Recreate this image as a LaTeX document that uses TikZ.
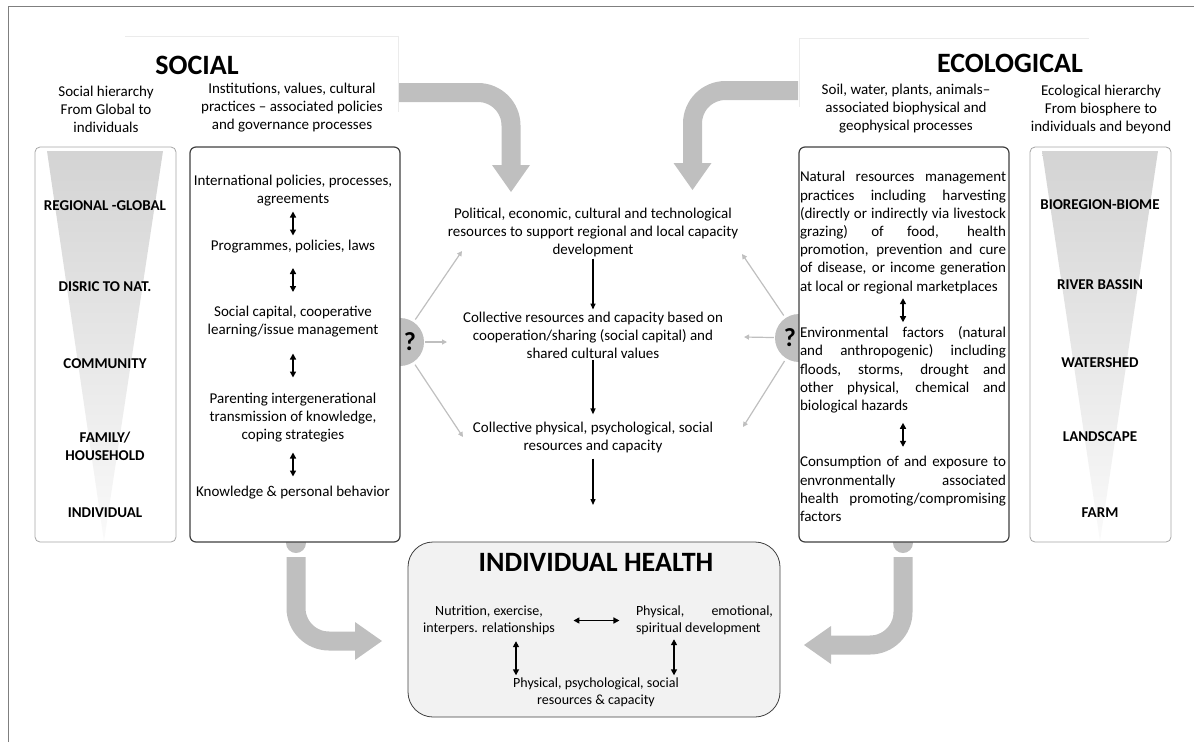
\documentclass[tikz,border=0pt]{standalone}
\usepackage{fontspec}
\setmainfont{Carlito}
\usetikzlibrary{arrows.meta,calc}
\definecolor{arrgray}{HTML}{BFBFBF}
\definecolor{boxline}{HTML}{404040}
\definecolor{hierline}{HTML}{A6A6A6}
\definecolor{healthfill}{HTML}{F2F2F2}
\definecolor{framegray}{HTML}{7F7F7F}

\begin{document}
\begin{tikzpicture}[x=1pt, y=-1pt,
  every node/.style = {inner sep=2pt, align=center, font=\fontsize{15}{18}\selectfont},
  title/.style = {font=\fontsize{28}{32}\selectfont\bfseries},
  hier/.style = {font=\fontsize{15}{18}\selectfont\bfseries},
  just/.style = {text width=206pt, align=justify, inner sep=0pt, font=\fontsize{15}{18.2}\selectfont},
  small/.style = {font=\fontsize{14}{17}\selectfont},
  hierbox/.style = {draw=hierline, fill=white, line width=0.8pt, rounded corners=5pt,
    minimum width=141pt, minimum height=395pt},
  mainbox/.style = {draw=boxline, fill=white, line width=1.2pt, rounded corners=6pt,
    minimum width=210pt, minimum height=395pt},
  bigarrow/.style = {draw=arrgray, line width=19pt, rounded corners=33pt,
    -{Triangle[length=27pt,width=38pt,line width=0pt]}},
  knob/.style = {draw=arrgray, line width=20pt, line cap=round},
  blk/.style = {draw=black, line width=1.3pt, -{Triangle[length=6pt,width=5pt]}},
  dbl/.style = {draw=black, line width=1.5pt,
    {Triangle[length=6pt,width=6pt]}-{Triangle[length=6pt,width=6pt]}},
  light/.style = {draw=arrgray, line width=1.2pt, -{Triangle[length=5pt,width=5pt]}},
  qmark/.style = {circle, fill=arrgray, minimum size=48pt, inner sep=0pt},
  qtext/.style = {font=\fontsize{26}{28}\selectfont\bfseries}]
  \useasboundingbox (0,0) rectangle (1194,742);
  \draw[framegray, line width=1pt] (8,742) -- (8,6) -- (1194,6);

  \draw[bigarrow] (398,92.5) -| (511,192);
  \draw[bigarrow] (798,90.5) -| (692.5,190);
  \draw[knob] (296,536) -- (296,543);
  \draw[bigarrow] (296,557) |- (382,641);
  \draw[knob] (903,536) -- (903,543);
  \draw[bigarrow] (903,557) |- (804,645);

  \fill[white] (125,36) rectangle (398,112);
  \draw[black!8] (125,36) -- (398,36) -- (398,112);
  \fill[white] (799,38) rectangle (1089,107);
  \draw[black!8] (799,107) -- (799,38) -- (1089,38);

  \node[title] (social) at (197,65) {SOCIAL};
  \node[title] (ecological) at (1010,63) {ECOLOGICAL};
  \node (soch) at (106,109) {Social hierarchy\\From Global to\\individuals};
  \node (inst) at (292,108) {Institutions, values, cultural\\practices – associated policies\\and governance processes};
  \node (soil) at (906,109) {Soil, water, plants, animals–\\associated biophysical and\\geophysical processes};
  \node (ecoh) at (1101,109) {Ecological hierarchy\\From biosphere to\\individuals and beyond};

  \node[qmark] (qL) at (400,342) {};
  \node[qmark] (qR) at (799,338) {};

  \node[hierbox] (lhier) at (105.5,344.5) {};
  \node[mainbox] (socbox) at (295,344.5) {};
  \node[mainbox] (ecobox) at (904,344.5) {};
  \node[hierbox] (rhier) at (1100.5,344.5) {};
  \node[draw=boxline, fill=healthfill, line width=0.8pt, rounded corners=25pt,
    minimum width=372pt, minimum height=175pt] (health) at (594,629.5) {};

  \shade[top color=black!17, bottom color=black!2] (47,151) -- (163,151) -- (104,541) -- cycle;
  \shade[top color=black!17, bottom color=black!2] (1042,151) -- (1158,151) -- (1100,541) -- cycle;

  \node[hier] (reg) at (105,206) {REGIONAL -GLOBAL};
  \node[hier] (dis) at (105,287) {DISRIC TO NAT.};
  \node[hier] (com) at (105,364) {COMMUNITY};
  \node[hier] (fam) at (105,446) {FAMILY/\\HOUSEHOLD};
  \node[hier] (ind) at (105,513) {INDIVIDUAL};

  \node[hier] (bio) at (1100,205) {BIOREGION-BIOME};
  \node[hier] (riv) at (1100,285) {RIVER BASSIN};
  \node[hier] (wat) at (1100,363) {WATERSHED};
  \node[hier] (lan) at (1100,437) {LANDSCAPE};
  \node[hier] (farm) at (1100,513) {FARM};

  \node (intl) at (293,191) {International policies, processes,\\agreements};
  \node (prog) at (293,247) {Programmes, policies, laws};
  \node (soccap) at (293,322) {Social capital, cooperative\\learning/issue management};
  \node (parent) at (293,418) {Parenting intergenerational\\transmission of knowledge,\\coping strategies};
  \node (know) at (293,493) {Knowledge \& personal behavior};
  \draw[dbl] ($(intl.south)!.5!(prog.north)+(0,-12)$) -- ++(0,24);
  \draw[dbl] ($(prog.south)!.5!(soccap.north)+(0,-12)$) -- ++(0,24);
  \draw[dbl] ($(soccap.south)!.5!(parent.north)+(0,-12)$) -- ++(0,24);
  \draw[dbl] ($(parent.south)!.5!(know.north)+(0,-12)$) -- ++(0,24);

  \node[just] (nat) at (903,232.5) {Natural resources management\linebreak
    practices including harvesting\linebreak
    (directly or indirectly via livestock\linebreak
    grazing) of food, health\linebreak
    promotion, prevention and cure\linebreak
    of disease, or income generation\linebreak
    at local or regional marketplaces};
  \node[just] (env) at (903,370) {Environmental factors (natural\linebreak
    and anthropogenic) including\linebreak
    floods, storms, drought and\linebreak
    other physical, chemical and\linebreak
    biological hazards};
  \node[just] (cons) at (903,489) {Consumption of and exposure to\linebreak
    envronmentally associated\linebreak
    health promoting/compromising\linebreak
    factors};
  \draw[dbl] ($(nat.south)!.5!(env.north)+(0,-12)$) -- ++(0,24);
  \draw[dbl] ($(env.south)!.5!(cons.north)+(0,-12)$) -- ++(0,24);

  \node (pol) at (593,232) {Political, economic, cultural and technological\\resources to support regional and local capacity\\development};
  \node (coll) at (593,335) {Collective resources and capacity based on\\cooperation/sharing (social capital) and\\shared cultural values};
  \node (phys) at (593,437) {Collective physical, psychological, social\\resources and capacity};
  \coordinate (hin) at (593,505);
  \draw[blk] (pol) -- (coll);
  \draw[blk, shorten >=5pt] (coll) -- (phys);
  \draw[blk, shorten <=4pt] (phys) -- (hin);

  \coordinate (tl1) at (462,251);
  \coordinate (tl2) at (447,342);
  \coordinate (tl3) at (463,437);
  \coordinate (tr1) at (742,254);
  \coordinate (tr2) at (744,337);
  \coordinate (tr3) at (743,427);
  \draw[light, shorten <=3pt] (qL) -- (tl1);
  \draw[light, shorten <=1pt] (qL) -- (tl2);
  \draw[light, shorten <=3pt] (qL) -- (tl3);
  \draw[light, shorten <=3pt] (qR) -- (tr1);
  \draw[light, shorten <=1pt] (qR) -- (tr2);
  \draw[light, shorten <=3pt] (qR) -- (tr3);
  \node[qtext] (qLt) at (410,342) {?};
  \node[qtext] (qRt) at (790,338) {?};

  \node[title] (htitle) at (596,563) {INDIVIDUAL HEALTH};
  \node[small] (nutr) at (489,620.5) {Nutrition, exercise,\\interpers. relationships};
  \node[small, text width=137pt, align=justify, inner sep=0pt] (dev) at (704.5,620.5) {Physical, emotional,\linebreak spiritual development};
  \node[small] (phys2) at (596,692) {Physical, psychological, social\\resources \& capacity};
  \draw[dbl] ($(nutr.east)!.5!(dev.west)+(-23,0)$) -- ++(46,0);
  \draw[dbl, shorten <=4pt] ([xshift=27pt]nutr.south) -- ([xshift=27pt]nutr.south |- phys2.north);
  \draw[dbl, shorten <=4pt] ([xshift=-30.5pt]dev.south) -- ([xshift=-30.5pt]dev.south |- phys2.north);
\end{tikzpicture}
\end{document}
